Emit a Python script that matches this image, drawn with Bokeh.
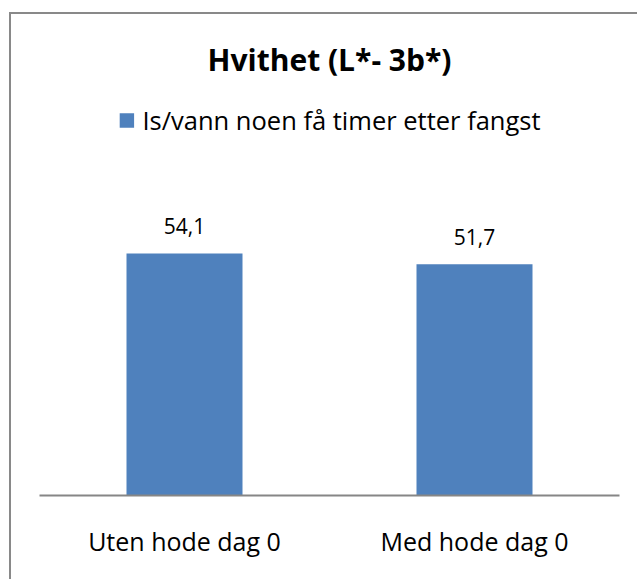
from bokeh.plotting import figure
from bokeh.models import ColumnDataSource, LabelSet, Range1d, FactorRange, Legend, LegendItem
from bokeh.core.properties import value
from bokeh.embed import file_html
from bokeh.resources import INLINE

# ---- data ----
categories = ["Uten hode dag 0", "Med hode dag 0"]
values = [54.1, 51.7]
series_name = "Is/vann noen få timer etter fangst"
title_text = "Hvithet (L*- 3b*)"

labels = [f"{v:.1f}".replace(".", ",") for v in values]
src = ColumnDataSource(dict(cat=categories, val=values, lbl=labels))

FONT = "Open Sans"
BLUE = "#4F81BD"
GRAY = "#868686"
BORDER = "#898989"

p = figure(
    x_range=FactorRange(*categories, range_padding=0),
    y_range=Range1d(0, 89.4),
    width=628, height=567,
    output_backend="svg", toolbar_location=None,
    min_border_left=28, min_border_right=20,
    min_border_top=81, min_border_bottom=86,
    title=title_text,
)
# chart-area frame: only the left and top edges are visible in the reference
p.styles = {"position": "relative", "left": "11px", "top": "14px",
            "box-shadow": f"-2px -2px 0 0 {BORDER}"}

p.title.align = "center"
p.title.text_font = FONT
p.title.text_font_style = "bold"
p.title.text_font_size = "30px"
p.title.text_color = "black"
p.title.standoff = 32

r = p.vbar(x="cat", top="val", width=0.4, source=src, fill_color=BLUE, line_color=None)

p.add_layout(LabelSet(x="cat", y="val", text="lbl", source=src, text_align="center",
                      text_baseline="alphabetic", y_offset=19,
                      text_font=value(FONT), text_font_size=value("21px"), text_color="black"))

legend = Legend(items=[LegendItem(label=series_name, renderers=[r])],
                location="top_center", orientation="horizontal",
                border_line_color=None, background_fill_alpha=0,
                padding=0, margin=8, glyph_width=18, glyph_height=18,
                label_standoff=7, label_text_font=FONT, label_text_font_size="25.5px",
                label_text_color="black")
p.add_layout(legend)

p.xaxis.axis_line_color = GRAY
p.xaxis.axis_line_width = 2
p.xaxis.major_tick_line_color = None
p.xaxis.minor_tick_line_color = None
p.xaxis.major_label_text_font = FONT
p.xaxis.major_label_text_font_size = "25px"
p.xaxis.major_label_text_color = "black"
p.xaxis.major_label_standoff = 22
p.yaxis.visible = False
p.xgrid.grid_line_color = None
p.ygrid.grid_line_color = None
p.outline_line_color = None

open("out.html", "w").write(file_html(p, INLINE))
